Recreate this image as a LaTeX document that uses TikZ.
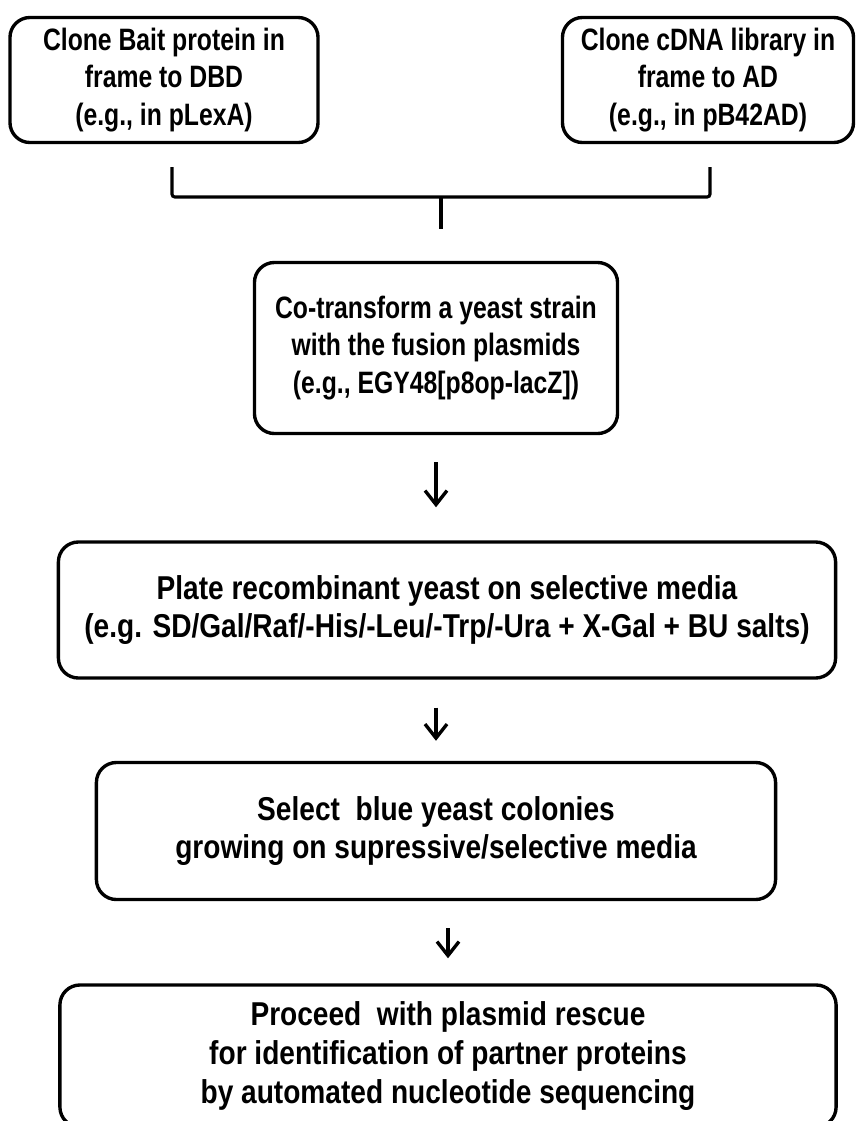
\documentclass[tikz,border=0pt]{standalone}
\usepackage{fontspec}
\setmainfont{Liberation Sans}[FakeStretch=0.8]
\newfontfamily\stepfont{Liberation Sans}[FakeStretch=0.85]
\usetikzlibrary{arrows.meta}

\begin{document}
\begin{tikzpicture}[
    x=0.025cm, y=-0.025cm,
    stepbox/.style = {draw=black, line width=2.4pt, rounded corners=0.5cm, align=center, inner sep=0pt,
                      font=\fontsize{22}{26.5}\selectfont\bfseries},
    widebox/.style = {stepbox, font=\stepfont\fontsize{23.5}{27.5}\selectfont\bfseries},
    flow/.style = {line width=2.4pt, -{Straight Barb[length=0.35cm, width=0.55cm, line width=2.4pt]}},
    brace/.style = {line width=2.2pt, rounded corners=2pt}
]
\useasboundingbox (0,0) rectangle (857,1121);

\node[stepbox, minimum width=7.7cm, minimum height=3.125cm] (bait) at (164,80)
    {Clone Bait protein in\\frame to DBD\\(e.g., in pLexA)};
\node[stepbox, minimum width=7.275cm, minimum height=3.125cm] (library) at (708,80)
    {Clone cDNA library in\\frame to AD\\(e.g., in pB42AD)};
\node[stepbox, minimum width=9.075cm, minimum height=4.275cm] (cotrans) at (436,348)
    {Co-transform a yeast strain\\with the fusion plasmids\\(e.g., EGY48[p8op-lacZ])};
\node[widebox, minimum width=19.425cm, minimum height=3.4cm] (plate) at (447,610)
    {Plate recombinant yeast on selective media\\(e.g. SD/Gal/Raf/-His/-Leu/-Trp/-Ura + X-Gal + BU salts)};
\node[widebox, minimum width=16.975cm, minimum height=3.425cm] (select) at (436,831)
    {Select~ blue yeast colonies\\growing on supressive/selective media};
\node[widebox, minimum width=19.4cm, minimum height=3.55cm] (rescue) at (448,1056)
    {Proceed~ with plasmid rescue\\for identification of partner proteins\\by automated nucleotide sequencing};

% bracket joining the two clones
\coordinate (brkL) at (172,167);
\coordinate (brkR) at (710,167);
\coordinate (brkM) at (441,197);
\coordinate (brkT) at (441,229);
\draw[brace] (brkL) |- (brkM) -| (brkR);
\draw[brace] (brkM) -- (brkT);

\draw[flow, shorten <=0.675cm, shorten >=0.825cm] (cotrans.south) -- (cotrans.south |- plate.north);
\draw[flow, shorten <=0.7cm, shorten >=0.5cm] (select.north |- plate.south) -- (select.north);
\draw[flow, shorten <=0.675cm, shorten >=0.625cm] (rescue.north |- select.south) -- (rescue.north);
\end{tikzpicture}
\end{document}
